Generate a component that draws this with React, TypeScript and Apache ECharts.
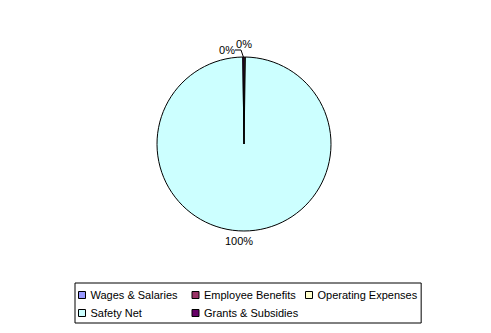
import React, { useEffect, useRef } from "react";
import * as echarts from "echarts";

const categories = ["Wages & Salaries", "Employee Benefits", "Operating Expenses", "Safety Net", "Grants & Subsidies"];
const values = [0.02, 0.01, 0.22, 99.53, 0.22];
const colors = ["#9999FF", "#993366", "#FFFFCC", "#CCFFFF", "#660066"];
const showLabel = [false, false, true, true, true];

export default function App() {
  const ref = useRef<HTMLDivElement>(null);
  useEffect(() => {
    if (!ref.current) return;
    const chart = echarts.init(ref.current, null, { renderer: "svg" });
    const data = categories.map((name, i) => ({
      name,
      value: values[i],
      itemStyle: { color: colors[i] },
      label: { show: showLabel[i] },
      labelLine: { show: i === 4 },
    }));
    chart.setOption({
      animation: false,
      backgroundColor: "#ffffff",
      textStyle: { fontFamily: "Liberation Sans, Arial, sans-serif" },
      legend: {
        left: 75,
        top: 283,
        width: 400,
        orient: "horizontal",
        borderColor: "#000",
        borderWidth: 1,
        padding: [5, 4, 3, 3],
        itemWidth: 7,
        itemHeight: 7,
        itemGap: 4,
        icon: "rect",
        itemStyle: { borderColor: "#000", borderWidth: 1 },
        textStyle: { fontSize: 11, color: "#000", width: 97, lineHeight: 14, fontFamily: "Liberation Sans, Arial, sans-serif" },
        data: categories,
      },
      series: [
        {
          type: "pie",
          center: [244, 144],
          radius: 87,
          startAngle: 90,
          clockwise: true,
          avoidLabelOverlap: false,
          data,
          itemStyle: { borderColor: "#000", borderWidth: 1 },
          label: {
            show: true,
            position: "outside",
            color: "#000",
            fontSize: 11,
            fontFamily: "Liberation Sans, Arial, sans-serif",
            formatter: (p: any) => Math.round(p.percent) + "%",
          },
          labelLine: { show: true, length: 6, length2: 6, lineStyle: { color: "#000", width: 1 } },
          labelLayout: (p: any) => {
            if (p.dataIndex === 2) return { x: 244, y: 44, align: "center", verticalAlign: "middle" };
            if (p.dataIndex === 4) return { x: 235, y: 50, align: "right", verticalAlign: "middle" };
            if (p.dataIndex === 3) return { x: 239, y: 241, align: "center", verticalAlign: "middle" };
            return {};
          },
        },
      ],
    });
    return () => chart.dispose();
  }, []);
  return <div ref={ref} style={{ position: "fixed", left: 0, top: 0, width: 491, height: 333 }} />;
}
